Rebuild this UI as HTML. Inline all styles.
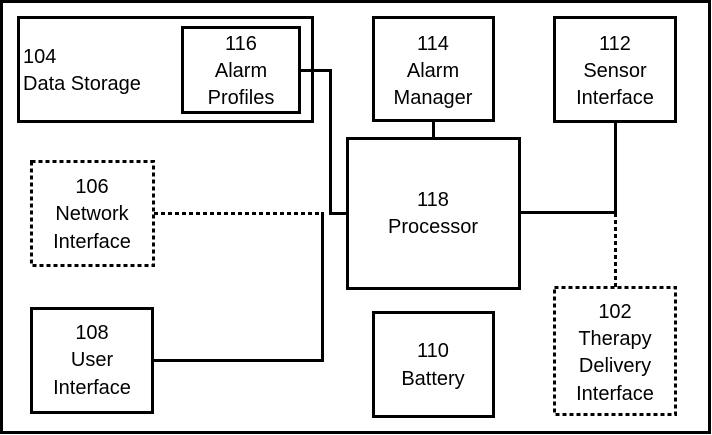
<!DOCTYPE html>
<html><head><meta charset="utf-8"><style>
html,body{margin:0;padding:0;background:#fff;}
svg{display:block;}
text{font-family:"Liberation Sans",Arial,sans-serif;font-size:20px;fill:#000;}
</style></head><body>
<svg width="712" height="435" viewBox="0 0 712 435" xmlns="http://www.w3.org/2000/svg">
<g fill="none" stroke="#000" stroke-width="3">
<rect x="1.5" y="1.5" width="708" height="431"/>
<rect x="18.5" y="17.5" width="294" height="104"/>
<rect x="182.5" y="27.5" width="117" height="85"/>
<rect x="373.5" y="17.5" width="120" height="103"/>
<rect x="554.5" y="17.5" width="121" height="104"/>
<rect x="347.5" y="138.5" width="172" height="150"/>
<rect x="31.5" y="308.5" width="121" height="104"/>
<rect x="373.5" y="312.5" width="120" height="104"/>
<g stroke-dasharray="4,3">
<rect x="31.5" y="161.5" width="122" height="104"/>
<rect x="554.5" y="287.5" width="121" height="127"/>
<path d="M154 213.5 H322"/>
<path d="M615.5 213 V287"/>
</g>
<path d="M300 70.5 H330.5 V213.5 H347"/>
<path d="M322.5 212 V360.5 H153"/>
<path d="M433.5 121 V138"/>
<path d="M520 212.5 H615.5 V122"/>
</g>
<g text-anchor="middle">
<text x="241" y="50">116</text><text x="241" y="77">Alarm</text><text x="241" y="104">Profiles</text>
<text x="433" y="50">114</text><text x="433" y="77">Alarm</text><text x="433" y="104">Manager</text>
<text x="615" y="50">112</text><text x="615" y="77">Sensor</text><text x="615" y="104">Interface</text>
<text x="433" y="206">118</text><text x="433" y="233">Processor</text>
<text x="92" y="193">106</text><text x="92" y="220">Network</text><text x="92" y="248">Interface</text>
<text x="92" y="339">108</text><text x="92" y="366">User</text><text x="92" y="394">Interface</text>
<text x="433" y="357">110</text><text x="433" y="385">Battery</text>
<text x="615" y="318">102</text><text x="615" y="345">Therapy</text><text x="615" y="372">Delivery</text><text x="615" y="400">Interface</text>
</g>
<text x="23" y="63">104</text><text x="23" y="90">Data Storage</text>
</svg>
</body></html>
